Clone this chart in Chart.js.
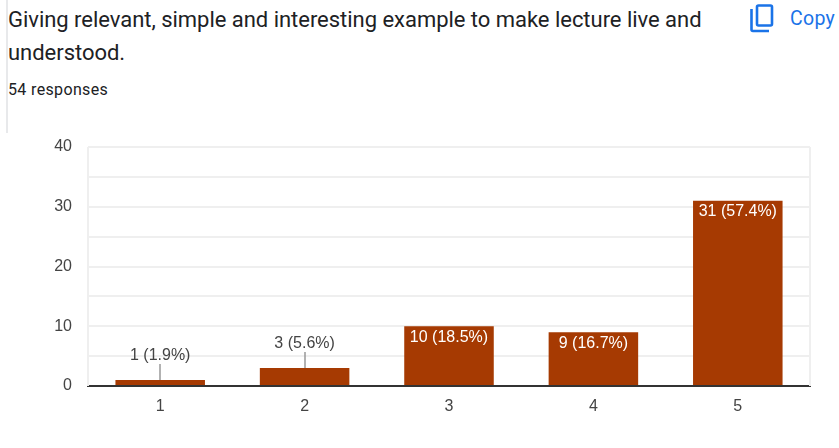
<!DOCTYPE html>
<html>
<head>
<meta charset="utf-8">
<script src="https://cdn.jsdelivr.net/npm/chart.js@4"></script>
<style>
html,body{margin:0;padding:0;background:#fff;overflow:hidden}
body{width:839px;height:448px;position:relative;font-family:Roboto,sans-serif}
#edge{position:absolute;left:6px;top:0;width:2px;height:133px;background:#e8e9eb}
#title{position:absolute;left:8px;top:3px;width:720px;font-size:22px;line-height:33px;letter-spacing:-.03px;color:#202124}
#count{position:absolute;left:8px;top:81px;font-size:16px;line-height:18px;letter-spacing:.35px;color:#202124}
#copyIcon{position:absolute;left:748px;top:1px}
#copy{position:absolute;left:790px;top:7px;font-size:19.5px;line-height:24px;letter-spacing:.3px;color:#1a73e8;white-space:nowrap}
#mycanvas{position:absolute;left:0;top:0}
</style>
</head>
<body>
<div id="edge"></div>
<div id="title">Giving relevant, simple and interesting example to make lecture live and understood.</div>
<div id="count">54 responses</div>
<svg id="copyIcon" width="32" height="32" viewBox="0 0 32 32" fill="none" stroke="#1a73e8" stroke-width="2.6">
<rect x="9" y="4.5" width="15" height="20" rx="1.5"/>
<path d="M3.5 8v20.5a1.5 1.5 0 0 0 1.5 1.5h16"/>
</svg>
<div id="copy">Copy</div>
<canvas id="mycanvas" width="839" height="448"></canvas>
<script>
// values
var categories = ["1", "2", "3", "4", "5"];
var counts = [1, 3, 10, 9, 31];
var percents = ["1.9%", "5.6%", "18.5%", "16.7%", "57.4%"];
var yTicks = [0, 10, 20, 30, 40];

var fontFamily = "'Liberation Sans', Arial, sans-serif";

// light frame at both sides of the plot
var plotSides = {
	id: "plotSides",
	beforeDatasetsDraw: function(chart){
		var a = chart.chartArea, ctx = chart.ctx;
		ctx.save();
		ctx.strokeStyle = "#efefef";
		ctx.lineWidth = 2;
		ctx.beginPath();
		ctx.moveTo(a.left, a.top);
		ctx.lineTo(a.left, a.bottom);
		ctx.moveTo(a.right, a.top);
		ctx.lineTo(a.right, a.bottom);
		ctx.stroke();
		ctx.restore();
	}
};

// count labels: white inside the tall bars, dark with a leader line over the short ones
var barLabels = {
	id: "barLabels",
	afterDatasetsDraw: function(chart){
		var ctx = chart.ctx;
		var bars = chart.getDatasetMeta(0).data;
		ctx.save();
		ctx.font = "16px " + fontFamily;
		ctx.textAlign = "center";
		ctx.textBaseline = "middle";
		for(var j = 0; j < bars.length; j++){
			var text = counts[j] + " (" + percents[j] + ")";
			var x = bars[j].x, y = bars[j].y;
			if(counts[j] >= 9){
				ctx.fillStyle = "#ffffff";
				ctx.fillText(text, x, y + 11);
			}else{
				ctx.strokeStyle = "#999999";
				ctx.lineWidth = 1.5;
				ctx.beginPath();
				ctx.moveTo(Math.round(x), y);
				ctx.lineTo(Math.round(x), y - 16);
				ctx.stroke();
				ctx.fillStyle = "#444444";
				ctx.fillText(text, x, y - 24);
			}
		}
		ctx.restore();
	}
};

var ctx = document.getElementById("mycanvas");
var chart = new Chart(ctx, {
	type: "bar",
	data: {
		labels: categories,
		datasets: [{
			data: counts,
			backgroundColor: "#a63a02",
			barPercentage: 0.62,
			categoryPercentage: 1
		}]
	},
	plugins: [plotSides, barLabels],
	options: {
		responsive: false,
		animation: false,
		layout: {padding: {left: 0, right: 29, top: 147, bottom: 0}},
		plugins: {legend: {display: false}, tooltip: {enabled: false}},
		scales: {
			x: {
				afterFit: function(scale){ scale.height = 62; },
				grid: {display: false},
				border: {color: "#333333", width: 2},
				ticks: {color: "#444444", font: {family: fontFamily, size: 16}, padding: 3, maxRotation: 0}
			},
			y: {
				min: 0,
				max: 40,
				afterFit: function(scale){ scale.width = 88; },
				grid: {color: "#efefef", lineWidth: 2, drawTicks: false},
				border: {display: false},
				ticks: {
					stepSize: 5,
					padding: 16,
					color: "#444444",
					font: {family: fontFamily, size: 16},
					callback: function(v){ return yTicks.indexOf(v) >= 0 ? v : ""; }
				}
			}
		}
	}
});
</script>
</body>
</html>
